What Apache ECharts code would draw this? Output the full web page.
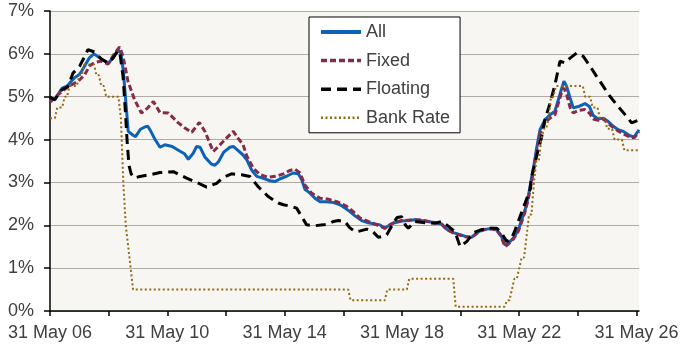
<!DOCTYPE html>
<html>
<head>
<meta charset="utf-8">
<script src="https://cdn.jsdelivr.net/npm/echarts@6/dist/echarts.min.js"></script>
<style>
html,body{margin:0;padding:0;background:#ffffff;}
#chart{width:692px;height:354px;}
</style>
</head>
<body>
<div id="chart"></div>
<script>
// x = months since 31 May 2006
var seriesNames = ['All', 'Fixed', 'Floating', 'Bank Rate'];
var xTickMonths = [0, 24, 48, 72, 96, 120, 144, 168, 192, 216, 240];
var xLabelMonths = [0, 48, 96, 144, 192, 240];
var xTickLabels = ['31 May 06', '31 May 10', '31 May 14', '31 May 18', '31 May 22', '31 May 26'];
var yTickValues = [0, 1, 2, 3, 4, 5, 6, 7];

var allRate = [
[0,4.95],[2,4.93],[4,5.12],[5,5.2],[7,5.25],[9,5.38],[10,5.44],[12,5.52],[13,5.6],[15,5.8],[16,5.9],[18,6.0],[21,5.88],[24,5.78],[26,5.94],[28,6.08],[29,6.02],[30,5.6],[31,4.9],[32,4.19],[34,4.1],[35,4.07],[37,4.24],[39,4.3],[40,4.31],[41,4.22],[43,4.0],[45,3.82],[47,3.88],[50,3.84],[52,3.77],[55,3.67],[56.6,3.54],[58.6,3.68],[60,3.84],[61.4,3.82],[63.4,3.59],[66,3.43],[67.5,3.40],[69,3.49],[71,3.70],[73.6,3.82],[75,3.84],[77,3.74],[79,3.64],[80.5,3.53],[82.5,3.29],[84.6,3.14],[87,3.10],[90,3.04],[92,3.02],[94,3.08],[97,3.15],[99.5,3.22],[101.6,3.20],[103,3.06],[104.3,2.84],[106.4,2.75],[108.4,2.63],[110.5,2.55],[113,2.55],[116,2.53],[118.7,2.48],[120.7,2.40],[122.7,2.32],[124.8,2.22],[127.5,2.11],[130.2,2.06],[133,2.03],[135,2.01],[137,1.93],[139,2.01],[141,2.06],[144,2.10],[146.6,2.11],[149.3,2.13],[152,2.11],[154.8,2.09],[157.5,2.06],[160.3,2.03],[162.3,1.91],[165,1.83],[167.8,1.78],[170,1.74],[172.5,1.72],[174.6,1.82],[176.6,1.89],[178.7,1.91],[180.7,1.93],[182.8,1.89],[184.4,1.78],[186.2,1.54],[187.5,1.58],[189.6,1.70],[191.6,1.89],[193,2.13],[194.4,2.36],[195.7,2.67],[197,3.1],[198,3.4],[199,3.76],[200.5,4.23],[202.5,4.46],[204.6,4.58],[206.6,4.66],[208,4.93],[209.4,5.20],[210.3,5.36],[211.4,5.24],[212.8,4.97],[214.1,4.74],[216.2,4.77],[218.9,4.84],[220.7,4.77],[222.3,4.56],[224.3,4.48],[226.4,4.50],[228.4,4.42],[230.5,4.31],[232.5,4.23],[234.6,4.19],[237.3,4.09],[239,4.06],[241,4.23]
];

var fixedRate = [
[0,4.87],[3.3,5.05],[7.4,5.23],[11.5,5.36],[14.2,5.51],[16.2,5.72],[18.3,5.80],[21,5.83],[23.7,5.76],[26.5,6.02],[28.5,6.16],[29.9,5.94],[31.9,5.36],[34.6,4.93],[37.4,4.62],[40,4.74],[42.3,4.89],[45,4.63],[48.4,4.62],[52.5,4.39],[55.2,4.27],[58,4.17],[61.1,4.40],[63.4,4.19],[66.8,3.72],[68.9,3.84],[71.6,4.0],[75,4.19],[77,4.03],[79,3.88],[80.5,3.62],[83.2,3.33],[86,3.18],[89.3,3.12],[92.8,3.15],[95.5,3.20],[98.2,3.28],[100.2,3.31],[102.3,3.22],[104.3,2.94],[107,2.75],[110.5,2.63],[113.9,2.61],[117.3,2.55],[118.7,2.52],[121.4,2.44],[124.1,2.32],[126.8,2.17],[130.2,2.09],[133.7,2.01],[137,1.93],[139,2.01],[141,2.07],[144,2.11],[146.6,2.12],[149.3,2.13],[152,2.12],[154.8,2.09],[157.5,2.06],[160.3,2.02],[162.3,1.90],[165,1.82],[167.8,1.77],[170,1.73],[172.5,1.71],[174.6,1.81],[176.6,1.88],[178.7,1.91],[180.7,1.92],[182.8,1.88],[184.4,1.76],[186.2,1.50],[187.5,1.56],[189.6,1.68],[191.6,1.86],[193,2.08],[194.4,2.32],[195.7,2.62],[197,3.0],[198,3.33],[199,3.68],[200.5,4.15],[202.5,4.40],[204.6,4.50],[206.6,4.58],[208,4.85],[209.4,5.12],[210.3,5.2],[211.4,5.05],[212.8,4.75],[214.1,4.62],[216.2,4.68],[218.9,4.70],[220.7,4.62],[222.3,4.48],[224.3,4.45],[226.4,4.48],[228.4,4.38],[230.5,4.28],[232.5,4.20],[234.6,4.13],[237.3,4.06],[239,4.04],[241,4.18]
];

var floatingRate = [
[0,4.99],[1.9,4.93],[4.6,5.15],[7.4,5.24],[9.4,5.55],[12.1,5.71],[14.2,5.94],[15.5,6.10],[18.3,6.04],[21,5.88],[23.7,5.79],[25.8,5.90],[27.5,6.06],[28.5,6.06],[29.9,5.47],[30.8,4.70],[31.6,3.92],[32.3,3.40],[33.2,3.2],[34.6,3.10],[36.8,3.14],[40.9,3.18],[45,3.23],[50.5,3.25],[55.9,3.10],[60,3.0],[64.1,2.89],[68.2,2.98],[70.9,3.12],[74.3,3.20],[78.4,3.18],[81.8,3.14],[85.2,2.90],[89.3,2.67],[93.4,2.52],[95.5,2.48],[98.9,2.44],[100.9,2.40],[103,2.20],[105,2.01],[108.4,1.99],[111.8,2.01],[113.9,2.03],[116,2.09],[118,2.11],[120.7,2.09],[122.5,1.95],[124.8,1.85],[127,1.87],[129.6,1.91],[132,1.86],[134.3,1.72],[136,1.74],[137.8,1.78],[140.5,2.05],[142,2.18],[143.9,2.20],[145.5,2.0],[146.6,1.93],[149.3,2.09],[153.4,2.06],[157.5,2.05],[160.3,2.09],[162.3,2.01],[165.7,1.85],[167.8,1.50],[170.5,1.62],[173.2,1.82],[176,1.89],[179.3,1.93],[182.8,1.93],[184.8,1.82],[186.9,1.62],[188.9,1.70],[190.3,1.89],[192.3,2.20],[194.4,2.52],[196.4,2.83],[197.1,3.14],[199.1,3.61],[201.2,4.07],[202.5,4.46],[204.6,4.85],[206.6,5.28],[208.7,5.83],[210.7,5.79],[212.8,5.90],[215.5,6.02],[218.2,5.94],[221,5.71],[223.7,5.47],[226.4,5.24],[229.1,5.01],[232.5,4.77],[235.9,4.54],[238,4.39],[241,4.46]
];

var bankRate = [
[0,4.5],[2,4.5],[3,4.75],[5,4.75],[6,5.0],[7,5.0],[8,5.25],[11,5.25],[12,5.5],[13,5.5],[14,5.75],[18,5.75],[19,5.5],[20,5.5],[21,5.25],[22,5.25],[23,5.0],[28,5.0],[29,4.5],[30,3.0],[31,2.0],[32,1.5],[33,1.0],[34,0.5],[122,0.5],[123,0.25],[137,0.25],[138,0.5],[146,0.5],[147,0.75],[165,0.75],[166,0.1],[186,0.1],[187,0.25],[188,0.25],[189,0.5],[190,0.75],[191,0.75],[192,1.0],[193,1.25],[194,1.25],[195,1.75],[196,2.25],[197,2.25],[198,3.0],[199,3.5],[200,3.5],[201,4.0],[202,4.25],[203,4.25],[204,4.5],[205,5.0],[206,5.0],[207,5.25],[218,5.25],[219,5.0],[221,5.0],[222,4.75],[224,4.75],[225,4.5],[227,4.5],[228,4.25],[230,4.25],[231,4.0],[234,4.0],[235,3.75],[241,3.75]
];

var FONT = '"Liberation Sans", Arial, sans-serif';
var TXT = '#404040';

var chart = echarts.init(document.getElementById('chart'), null, {renderer: 'canvas'});
chart.setOption({
  animation: false,
  backgroundColor: '#ffffff',
  textStyle: {fontFamily: FONT},
  grid: {left: 50, right: 53, top: 11, bottom: 43, show: true, backgroundColor: '#f7f6f2', borderWidth: 0},
  legend: {
    orient: 'vertical',
    left: 309, top: 17,
    padding: [6, 10, 6, 10],
    itemWidth: 40, itemHeight: 14, itemGap: 10.6,
    backgroundColor: '#ffffff',
    borderColor: '#000000', borderWidth: 1,
    itemStyle: {opacity: 0, borderWidth: 0},
    textStyle: {fontSize: 18, color: TXT, fontFamily: FONT, lineHeight: 18},
    data: [
      {name: seriesNames[0], lineStyle: {width: 4}},
      {name: seriesNames[1], lineStyle: {width: 3.5}},
      {name: seriesNames[2], lineStyle: {width: 3.5}},
      {name: seriesNames[3], lineStyle: {width: 2.5}}
    ]
  },
  xAxis: {
    type: 'value', min: 0, max: 241, interval: 24,
    axisLine: {show: true, lineStyle: {color: '#000000', width: 1.5}},
    axisTick: {show: true, length: 5, inside: false, customValues: xTickMonths, lineStyle: {color: '#000000', width: 1.5}},
    axisLabel: {
      customValues: xLabelMonths,
      fontSize: 18, color: TXT, fontFamily: FONT, margin: 13,
      formatter: function (v) { var i = xLabelMonths.indexOf(v); return i >= 0 ? xTickLabels[i] : ''; }
    },
    splitLine: {show: false}
  },
  yAxis: {
    type: 'value', min: 0, max: 7, interval: 1,
    axisLine: {show: true, lineStyle: {color: '#000000', width: 1.5}},
    axisTick: {show: true, length: 6, inside: false, lineStyle: {color: '#000000', width: 1.5}},
    axisLabel: {
      fontSize: 18, color: TXT, fontFamily: FONT, margin: 16,
      formatter: function (v) { return yTickValues.indexOf(v) >= 0 ? v + '%' : ''; }
    },
    splitLine: {show: true, lineStyle: {color: '#aeaba6', width: 1.2}}
  },
  series: [
    {name: seriesNames[0], type: 'line', data: allRate, symbol: 'none', showSymbol: false,
     itemStyle: {color: '#0c62b8'}, lineStyle: {color: '#0c62b8', width: 3}},
    {name: seriesNames[1], type: 'line', data: fixedRate, symbol: 'none', showSymbol: false,
     itemStyle: {color: '#862b4a'}, lineStyle: {color: '#862b4a', width: 3, type: [6, 3]}},
    {name: seriesNames[2], type: 'line', data: floatingRate, symbol: 'none', showSymbol: false,
     itemStyle: {color: '#000000'}, lineStyle: {color: '#000000', width: 3, type: [10, 6]}},
    {name: seriesNames[3], type: 'line', data: bankRate, symbol: 'none', showSymbol: false,
     itemStyle: {color: '#946a12'}, lineStyle: {color: '#946a12', width: 2, type: [2, 2.5]}}
  ]
});
</script>
</body>
</html>
